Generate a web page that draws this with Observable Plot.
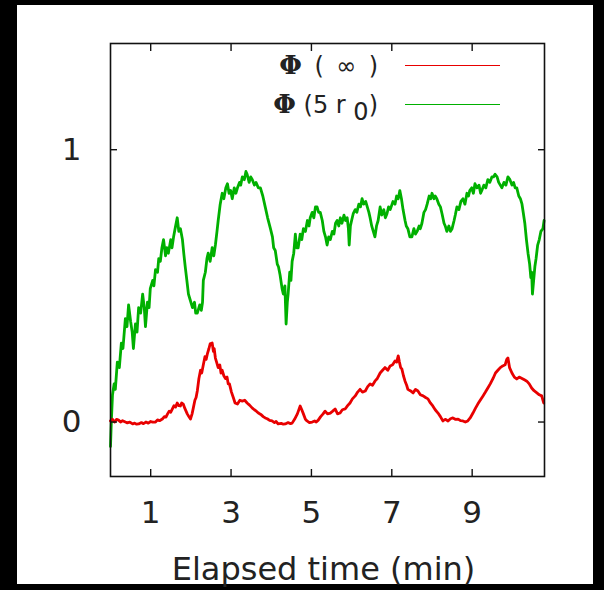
<!DOCTYPE html>
<html>
<head>
<meta charset="utf-8">
<script src="https://cdn.jsdelivr.net/npm/d3@7"></script>
<script src="https://cdn.jsdelivr.net/npm/@observablehq/plot@0.6"></script>
<style>
  html, body { margin: 0; padding: 0; background: #000; }
  #wrap { position: relative; width: 604px; height: 590px; background: #000; overflow: hidden; font-family: "DejaVu Sans", sans-serif; }
  #panel { position: absolute; left: 17px; top: 5px; width: 576px; height: 579px; background: #fff; }
  #chart { position: absolute; left: 0; top: 0; }
  .leg-row { position: absolute; right: 226px; font-size: 24px; color: #222; line-height: 1; white-space: pre; transform: translateY(-50%); }
  .leg-row b { font-family: "DejaVu Serif", serif; font-weight: bold; font-size: 26px; }
  .leg-line { position: absolute; left: 405px; width: 95px; height: 0; }
</style>
</head>
<body>
<div id="wrap">
  <div id="panel"></div>
  <div id="chart"></div>
</div>
<script>
// ---- data ----
const xTicks = [1, 3, 5, 7, 9];
const yTicks = [0, 1];
const xLabel = "Elapsed time (min)";
const seriesNames = ["Φ ( ∞ )", "Φ (5 r0)"];
const seriesColors = ["#e80000", "#00b000"];

// Φ(5 r0) – green
const gT = [0.00,0.02,0.05,0.09,0.12,0.17,0.22,0.27,0.31,0.37,0.41,0.45,0.50,0.54,0.57,0.62,0.66,0.70,0.75,0.80,0.84,0.87,0.92,0.96,0.99,1.05,1.08,1.12,1.17,1.20,1.24,1.28,1.32,1.37,1.40,1.44,1.50,1.53,1.57,1.62,1.66,1.70,1.74,1.79,1.83,1.86,1.90,1.94,1.98,2.04,2.09,2.12,2.16,2.22,2.26,2.29,2.31,2.36,2.40,2.43,2.48,2.53,2.57,2.61,2.65,2.68,2.73,2.78,2.82,2.87,2.91,2.95,2.99,3.03,3.08,3.12,3.16,3.21,3.24,3.28,3.33,3.37,3.40,3.45,3.49,3.53,3.58,3.62,3.68,3.73,3.79,3.85,3.91,3.98,4.03,4.06,4.10,4.15,4.18,4.22,4.27,4.30,4.34,4.37,4.40,4.42,4.46,4.49,4.52,4.56,4.60,4.63,4.67,4.72,4.76,4.80,4.85,4.90,4.94,4.97,5.02,5.06,5.10,5.14,5.18,5.22,5.27,5.31,5.35,5.39,5.43,5.47,5.52,5.56,5.60,5.64,5.68,5.72,5.76,5.81,5.85,5.89,5.92,5.94,5.97,6.00,6.04,6.09,6.13,6.18,6.22,6.26,6.30,6.35,6.39,6.43,6.46,6.50,6.54,6.58,6.62,6.66,6.71,6.75,6.80,6.84,6.88,6.92,6.96,7.03,7.08,7.12,7.16,7.20,7.24,7.28,7.33,7.36,7.40,7.45,7.50,7.55,7.59,7.63,7.68,7.71,7.75,7.80,7.84,7.88,7.93,7.97,8.00,8.05,8.08,8.12,8.17,8.21,8.25,8.30,8.33,8.37,8.42,8.46,8.50,8.55,8.58,8.62,8.67,8.72,8.77,8.82,8.87,8.91,8.94,8.99,9.03,9.07,9.12,9.17,9.21,9.24,9.29,9.34,9.39,9.44,9.49,9.53,9.57,9.62,9.66,9.70,9.74,9.79,9.84,9.89,9.94,9.99,10.03,10.07,10.11,10.16,10.20,10.24,10.28,10.31,10.35,10.39,10.43,10.46,10.48,10.50,10.53,10.56,10.59,10.63,10.67,10.71,10.76,10.79];
const gV = [-0.09,0.00,0.10,0.14,0.12,0.22,0.20,0.29,0.27,0.38,0.35,0.43,0.37,0.33,0.27,0.36,0.33,0.42,0.40,0.47,0.42,0.35,0.44,0.42,0.49,0.52,0.50,0.56,0.55,0.60,0.59,0.64,0.67,0.61,0.64,0.62,0.67,0.64,0.68,0.72,0.75,0.70,0.71,0.67,0.61,0.57,0.52,0.47,0.45,0.42,0.44,0.40,0.40,0.43,0.41,0.44,0.52,0.55,0.60,0.62,0.59,0.64,0.61,0.65,0.70,0.74,0.80,0.84,0.82,0.86,0.875,0.84,0.85,0.82,0.86,0.84,0.86,0.88,0.87,0.90,0.89,0.92,0.91,0.88,0.90,0.89,0.87,0.88,0.86,0.86,0.83,0.79,0.75,0.71,0.68,0.64,0.63,0.58,0.57,0.54,0.49,0.47,0.50,0.36,0.44,0.47,0.55,0.52,0.59,0.62,0.69,0.64,0.64,0.69,0.67,0.71,0.70,0.74,0.72,0.75,0.77,0.75,0.79,0.79,0.77,0.77,0.74,0.70,0.68,0.65,0.68,0.67,0.70,0.69,0.73,0.74,0.72,0.75,0.73,0.76,0.74,0.75,0.71,0.65,0.72,0.74,0.765,0.78,0.77,0.80,0.79,0.82,0.80,0.81,0.79,0.77,0.75,0.72,0.70,0.68,0.72,0.74,0.79,0.76,0.78,0.75,0.765,0.79,0.78,0.81,0.80,0.83,0.82,0.85,0.82,0.78,0.74,0.72,0.71,0.68,0.68,0.71,0.69,0.70,0.72,0.71,0.73,0.77,0.78,0.80,0.83,0.82,0.84,0.82,0.83,0.82,0.80,0.79,0.765,0.73,0.72,0.70,0.72,0.70,0.71,0.74,0.76,0.79,0.78,0.81,0.82,0.80,0.84,0.83,0.85,0.86,0.84,0.875,0.86,0.87,0.84,0.85,0.87,0.86,0.89,0.88,0.90,0.90,0.91,0.90,0.88,0.87,0.86,0.88,0.87,0.90,0.89,0.87,0.88,0.86,0.86,0.83,0.82,0.80,0.76,0.73,0.67,0.62,0.58,0.53,0.55,0.47,0.52,0.57,0.60,0.65,0.67,0.70,0.71,0.74];

// Φ(∞) – red
const rT = [0.00,0.05,0.10,0.15,0.20,0.25,0.30,0.37,0.42,0.48,0.55,0.60,0.65,0.70,0.77,0.82,0.88,0.94,1.00,1.05,1.12,1.17,1.22,1.29,1.34,1.38,1.42,1.46,1.50,1.54,1.58,1.62,1.66,1.70,1.74,1.77,1.81,1.85,1.88,1.91,1.95,1.99,2.03,2.06,2.10,2.13,2.16,2.20,2.24,2.27,2.31,2.35,2.38,2.41,2.45,2.48,2.53,2.56,2.58,2.61,2.64,2.68,2.72,2.75,2.78,2.82,2.86,2.90,2.93,2.96,3.01,3.06,3.10,3.16,3.22,3.28,3.34,3.40,3.46,3.53,3.58,3.63,3.68,3.74,3.80,3.85,3.90,3.96,4.02,4.08,4.12,4.17,4.25,4.30,4.35,4.42,4.48,4.52,4.58,4.65,4.72,4.76,4.80,4.85,4.89,4.95,5.02,5.08,5.12,5.17,5.23,5.29,5.34,5.40,5.47,5.53,5.59,5.65,5.71,5.77,5.84,5.90,5.96,6.02,6.09,6.15,6.21,6.27,6.34,6.40,6.46,6.52,6.58,6.64,6.71,6.77,6.83,6.90,6.96,7.02,7.08,7.12,7.16,7.19,7.22,7.25,7.29,7.33,7.37,7.40,7.46,7.53,7.59,7.65,7.71,7.78,7.84,7.90,7.96,8.02,8.08,8.15,8.21,8.27,8.33,8.40,8.46,8.52,8.58,8.65,8.71,8.77,8.83,8.89,8.95,9.02,9.08,9.14,9.20,9.27,9.33,9.39,9.45,9.52,9.58,9.64,9.70,9.76,9.82,9.86,9.89,9.93,9.99,10.05,10.11,10.17,10.24,10.30,10.36,10.42,10.48,10.54,10.61,10.67,10.73,10.78];
const rV = [0.004,0.010,0.000,0.010,0.007,0.000,0.005,0.000,-0.003,0.000,-0.007,-0.004,-0.008,-0.007,-0.002,-0.006,0.000,-0.004,0.002,0.000,0.000,0.008,0.005,0.011,0.020,0.018,0.030,0.040,0.036,0.048,0.060,0.055,0.070,0.060,0.059,0.070,0.066,0.050,0.040,0.030,0.020,0.011,0.030,0.051,0.080,0.090,0.114,0.160,0.190,0.180,0.210,0.240,0.230,0.250,0.270,0.287,0.290,0.260,0.270,0.235,0.220,0.200,0.210,0.180,0.190,0.170,0.160,0.165,0.140,0.140,0.110,0.088,0.070,0.066,0.080,0.077,0.080,0.070,0.062,0.051,0.045,0.040,0.033,0.028,0.020,0.015,0.012,0.006,0.004,-0.002,0.002,-0.007,-0.005,-0.008,-0.007,-0.002,-0.006,-0.004,0.010,0.030,0.059,0.045,0.030,0.010,0.004,-0.002,0.000,0.004,0.000,0.007,0.020,0.030,0.040,0.030,0.033,0.040,0.048,0.030,0.033,0.045,0.048,0.060,0.070,0.085,0.096,0.110,0.120,0.110,0.114,0.130,0.140,0.135,0.150,0.160,0.180,0.190,0.200,0.190,0.206,0.210,0.224,0.220,0.243,0.220,0.200,0.195,0.170,0.150,0.135,0.120,0.115,0.107,0.120,0.114,0.100,0.096,0.090,0.085,0.070,0.059,0.045,0.033,0.020,0.004,0.010,0.004,0.012,0.015,0.010,0.011,0.005,0.004,0.000,0.004,0.015,0.033,0.050,0.066,0.080,0.096,0.110,0.125,0.140,0.160,0.180,0.190,0.200,0.206,0.210,0.230,0.235,0.200,0.180,0.165,0.158,0.165,0.160,0.155,0.150,0.140,0.125,0.115,0.107,0.100,0.096,0.070];

const green = gT.map((t, i) => ({t, v: gV[i]}));
const red = rT.map((t, i) => ({t, v: rV[i]}));

const plot = Plot.plot({
  width: 604,
  height: 590,
  marginLeft: 110,
  marginRight: 60,
  marginTop: 43,
  marginBottom: 114,
  style: {fontFamily: "DejaVu Sans, sans-serif", background: "transparent", color: "#222", overflow: "visible"},
  x: {domain: [0, 10.8]},
  y: {domain: [-0.2, 1.39]},
  marks: [
    Plot.line(green, {x: "t", y: "v", stroke: seriesColors[1], strokeWidth: 2.8, strokeLinejoin: "round"}),
    Plot.line(red, {x: "t", y: "v", stroke: seriesColors[0], strokeWidth: 2.8, strokeLinejoin: "round"}),
    Plot.frame({stroke: "#111", strokeWidth: 1.6}),
    // inward ticks on all four sides
    Plot.axisX(xTicks, {anchor: "bottom", tickSize: -7, tickFormat: () => "", label: null, stroke: "#111", strokeWidth: 1.4}),
    Plot.axisX(xTicks, {anchor: "top", tickSize: -7, tickFormat: () => "", label: null, stroke: "#111", strokeWidth: 1.4}),
    Plot.axisY(yTicks, {anchor: "left", tickSize: -7, tickFormat: () => "", label: null, stroke: "#111", strokeWidth: 1.4}),
    Plot.axisY(yTicks, {anchor: "right", tickSize: -7, tickFormat: () => "", label: null, stroke: "#111", strokeWidth: 1.4}),
    // tick labels
    Plot.axisX(xTicks, {anchor: "bottom", tickSize: 0, tickPadding: 24, fontSize: 31, label: null, tickFormat: d => String(d)}),
    Plot.axisY(yTicks, {anchor: "left", tickSize: 0, tickPadding: 29, fontSize: 31, label: null, tickFormat: d => String(d)}),
    Plot.text([xLabel], {frameAnchor: "bottom", lineAnchor: "top", dy: 81, dx: -4, fontSize: 32, fill: "#222"})
  ]
});
document.getElementById("chart").appendChild(plot);

// legend (inside the plot frame, top-right, as in the reference)
const wrap = document.getElementById("wrap");
const rowsY = [65, 104];
seriesNames.forEach((name, i) => {
  const row = document.createElement("div");
  row.className = "leg-row";
  row.style.top = rowsY[i] + "px";
  const rest = name.slice(1);
  if (rest.endsWith("r0)")) {
    row.innerHTML = "<b>Φ</b>" + rest.slice(0, -2) + " <span style=\"position:relative;top:7px\">0</span>)";
  } else {
    row.innerHTML = "<b>Φ</b>" + rest.replace(/ /g, "\u2009 ");
  }
  wrap.appendChild(row);
  const ln = document.createElement("div");
  ln.className = "leg-line";
  ln.style.top = rowsY[i] + "px";
  ln.style.borderTop = "1.6px solid " + seriesColors[i];
  wrap.appendChild(ln);
});
</script>
</body>
</html>
